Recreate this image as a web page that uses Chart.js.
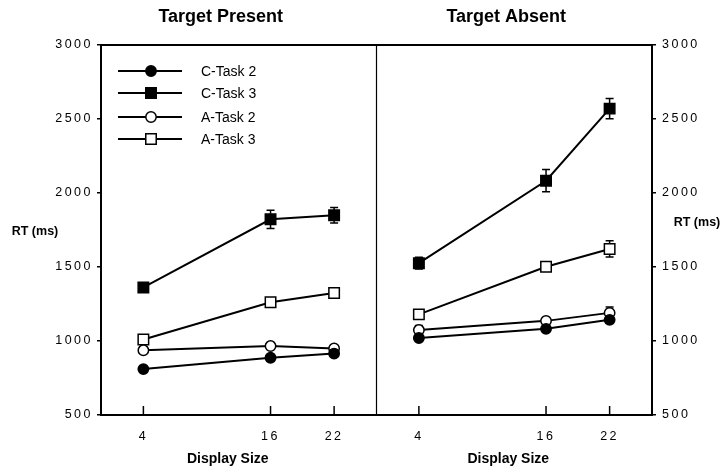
<!DOCTYPE html>
<html><head><meta charset="utf-8">
<script src="https://cdn.jsdelivr.net/npm/chart.js@4/dist/chart.umd.min.js"></script>
<style>html,body{margin:0;padding:0;background:#fff;}#wrap{width:726px;height:474px;position:relative;}</style>
</head><body><div id="wrap"><canvas id="c"></canvas></div>
<script>
// ---- data ----
const displaySizes = [4, 16, 22];
const yTickValues = [500, 1000, 1500, 2000, 2500, 3000];
const panelTitles = ['Target Present', 'Target Absent'];
const axisTitleX = 'Display Size';
const axisTitleY = 'RT (ms)';
const seriesNames = ['C-Task 2', 'C-Task 3', 'A-Task 2', 'A-Task 3'];

// Target Present
const presentC2 = [810, 887, 915];
const presentC3 = [1362, 1822, 1850];
const presentA2 = [937, 966, 950];
const presentA3 = [1010, 1262, 1324];
const presentC2Err = [15, 15, 15];
const presentC3Err = [25, 62, 52];
const presentA2Err = [15, 15, 15];
const presentA3Err = [15, 18, 22];

// Target Absent
const absentC2 = [1020, 1082, 1143];
const absentC3 = [1526, 2083, 2570];
const absentA2 = [1074, 1136, 1190];
const absentA3 = [1180, 1502, 1622];
const absentC2Err = [15, 15, 20];
const absentC3Err = [40, 75, 68];
const absentA2Err = [30, 22, 40];
const absentA3Err = [25, 30, 55];

// ---- styles ----
const seriesStyle = [
  {pointStyle: 'circle', radius: 5.2, fill: '#000'},
  {pointStyle: 'rect', radius: 7.4, fill: '#000'},
  {pointStyle: 'circle', radius: 5.2, fill: '#fff'},
  {pointStyle: 'rect', radius: 7.4, fill: '#fff'}
];
const presentVals = [presentC2, presentC3, presentA2, presentA3];
const presentErrs = [presentC2Err, presentC3Err, presentA2Err, presentA3Err];
const absentVals = [absentC2, absentC3, absentA2, absentA3];
const absentErrs = [absentC2Err, absentC3Err, absentA2Err, absentA3Err];

function makeDs(name, vals, errs, st, xAxisID) {
  return {
    label: name,
    data: displaySizes.map((x, i) => ({x: x, y: vals[i]})),
    errors: errs,
    xAxisID: xAxisID, yAxisID: 'y',
    borderColor: '#000', borderWidth: 2,
    pointStyle: st.pointStyle, pointRadius: st.radius, pointHoverRadius: st.radius,
    pointBackgroundColor: st.fill, pointBorderColor: '#000', pointBorderWidth: 1.5,
    tension: 0, fill: false
  };
}
const datasets = [];
seriesNames.forEach((n, i) => datasets.push(makeDs(n, presentVals[i], presentErrs[i], seriesStyle[i], 'xP')));
seriesNames.forEach((n, i) => datasets.push(makeDs(n, absentVals[i], absentErrs[i], seriesStyle[i], 'xA')));

const FONT = "'Liberation Sans', Arial, Helvetica, sans-serif";

function drawMarker(ctx, st, x, y) {
  ctx.save();
  ctx.fillStyle = st.fill; ctx.strokeStyle = '#000'; ctx.lineWidth = 1.5;
  ctx.beginPath();
  if (st.pointStyle === 'circle') ctx.arc(x, y, st.radius, 0, Math.PI * 2);
  else { const s = st.radius * Math.SQRT1_2; ctx.rect(x - s, y - s, 2 * s, 2 * s); }
  ctx.fill(); ctx.stroke();
  ctx.restore();
}

const deco = {
  id: 'deco',
  beforeDraw(chart) { chart.ctx.letterSpacing = '2.5px'; },
  beforeDatasetsDraw(chart) {
    const ctx = chart.ctx, ys = chart.scales.y;
    ctx.save();
    ctx.letterSpacing = '0px';
    ctx.strokeStyle = '#000'; ctx.lineWidth = 1.5;
    chart.data.datasets.forEach((ds) => {
      const xs = chart.scales[ds.xAxisID];
      ds.data.forEach((p, i) => {
        const e = ds.errors[i];
        const px = xs.getPixelForValue(p.x);
        const y1 = ys.getPixelForValue(p.y + e), y2 = ys.getPixelForValue(p.y - e);
        ctx.beginPath();
        ctx.moveTo(px, y1); ctx.lineTo(px, y2);
        ctx.moveTo(px - 4, y1); ctx.lineTo(px + 4, y1);
        ctx.moveTo(px - 4, y2); ctx.lineTo(px + 4, y2);
        ctx.stroke();
      });
    });
    ctx.restore();
  },
  afterDraw(chart) {
    const ctx = chart.ctx, a = chart.chartArea;
    const xP = chart.scales.xP, xA = chart.scales.xA;
    ctx.save();
    ctx.letterSpacing = '0px';
    ctx.strokeStyle = '#000';
    // box
    ctx.lineWidth = 2;
    ctx.strokeRect(a.left, a.top, a.right - a.left, a.bottom - a.top);
    // divider
    ctx.lineWidth = 1.2;
    ctx.beginPath(); ctx.moveTo(xA.left, a.top); ctx.lineTo(xA.left, a.bottom); ctx.stroke();
    // inward x ticks
    ctx.lineWidth = 1.5;
    [xP, xA].forEach(s => {
      displaySizes.forEach(v => {
        const px = s.getPixelForValue(v);
        ctx.beginPath(); ctx.moveTo(px, a.bottom); ctx.lineTo(px, a.bottom - 9); ctx.stroke();
      });
    });
    // titles
    ctx.fillStyle = '#000';
    ctx.textAlign = 'center'; ctx.textBaseline = 'middle';
    ctx.font = 'bold 18px ' + FONT;
    ctx.fillText(panelTitles[0], (xP.left + xP.right) / 2 - 18, 17);
    ctx.fillText(panelTitles[1], (xA.left + xA.right) / 2 - 8, 17);
    ctx.font = 'bold 14px ' + FONT;
    ctx.fillText(axisTitleX, (xP.left + xP.right) / 2 - 11, 459);
    ctx.fillText(axisTitleX, (xA.left + xA.right) / 2 - 6, 459);
    ctx.font = 'bold 12.5px ' + FONT;
    ctx.fillText(axisTitleY, 35, 232);
    ctx.fillText(axisTitleY, 697, 223);
    // legend
    const rows = [71, 93, 117, 139];
    ctx.font = '14px ' + FONT;
    ctx.textAlign = 'left';
    seriesNames.forEach((n, i) => {
      ctx.lineWidth = 2;
      ctx.beginPath(); ctx.moveTo(118, rows[i]); ctx.lineTo(182, rows[i]); ctx.stroke();
      drawMarker(ctx, seriesStyle[i], 151, rows[i]);
      ctx.fillStyle = '#000';
      ctx.fillText(n, 201, rows[i] + 1);
    });
    ctx.restore();
  }
};

const xScale = (extra) => Object.assign({
  type: 'linear', position: 'bottom', stack: 'x', stackWeight: 1,
  min: 0, max: 26,
  afterBuildTicks: s => { s.ticks = displaySizes.map(v => ({value: v})); },
  afterFit: s => { s.height = 59; },
  grid: {display: false, drawTicks: false},
  border: {display: false},
  ticks: {color: '#000', font: {family: FONT, size: 12.5}, padding: 14, maxRotation: 0, autoSkip: false,
          callback: v => String(v)}
}, extra);

const yScale = (pos, w, pad) => ({
  type: 'linear', position: pos, min: 500, max: 3000,
  afterBuildTicks: s => { s.ticks = yTickValues.map(v => ({value: v})); },
  afterFit: s => { s.width = w; },
  grid: {drawOnChartArea: false, drawTicks: true, tickLength: 4, color: '#000', lineWidth: 1.5},
  border: {display: false},
  ticks: {color: '#000', font: {family: FONT, size: 12.5}, padding: pad, callback: v => String(v)}
});

new Chart(document.getElementById('c'), {
  type: 'line',
  data: {datasets: datasets},
  options: {
    responsive: true, maintainAspectRatio: false, animation: false,
    layout: {padding: {top: 45, left: 0, right: 0, bottom: 0}},
    plugins: {legend: {display: false}, tooltip: {enabled: false}, title: {display: false}},
    scales: {
      xP: xScale({}),
      xA: xScale({}),
      y: yScale('left', 101, 4),
      y2: yScale('right', 74, 6)
    }
  },
  plugins: [deco]
});
</script></body></html>
